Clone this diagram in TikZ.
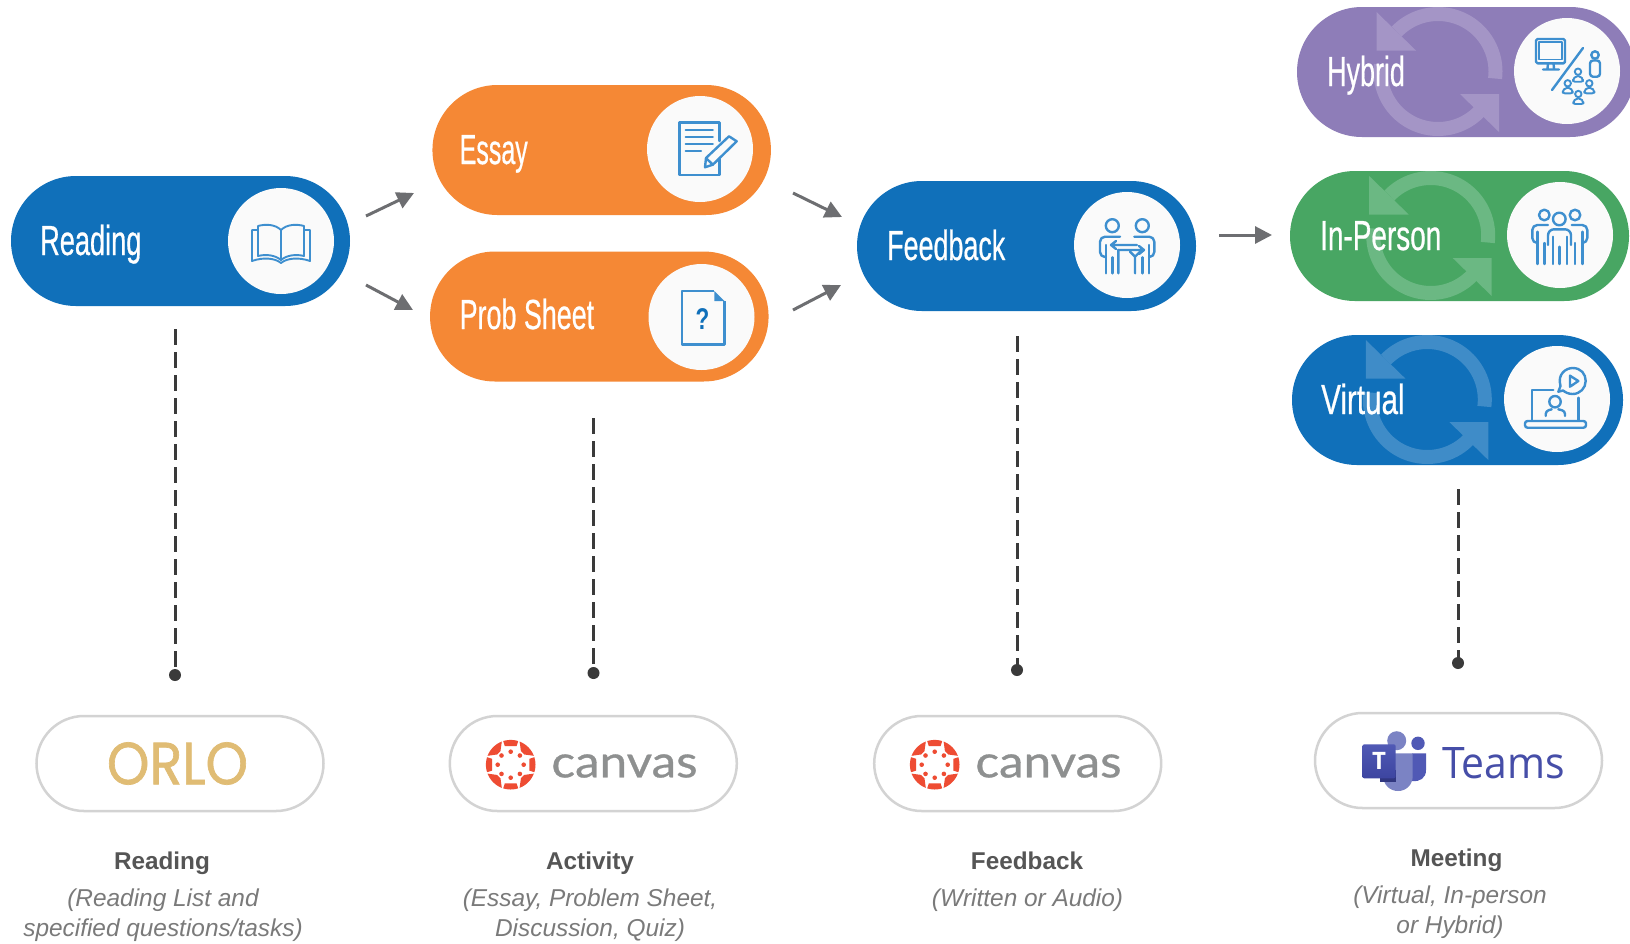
\documentclass[tikz,border=0pt]{standalone}
\usepackage{fontspec}
\usepackage{graphicx}
\setmainfont{Liberation Sans}
\newfontfamily\canvasfont[FakeBold=0.7]{Lato}
\newfontfamily\osansfont{Open Sans}
\newfontfamily\orlofont[FakeBold=1.2]{Poppins}
\newfontfamily\pillfont[FakeBold=0.7]{Liberation Sans}
\usetikzlibrary{shapes.misc,arrows.meta}
\definecolor{pblue}{HTML}{1070BA}
\definecolor{porange}{HTML}{F58835}
\definecolor{pgreen}{HTML}{48A663}
\definecolor{ppurple}{HTML}{8E7DB8}
\definecolor{rblue}{HTML}{3F8CC8}
\definecolor{rgreen}{HTML}{6BB883}
\definecolor{rpurple}{HTML}{A495C6}
\definecolor{iconblue}{HTML}{3E8FCF}
\definecolor{disc}{HTML}{FAFAFA}
\definecolor{arrowgray}{HTML}{6D6E71}
\definecolor{dashgray}{HTML}{3A3A3A}
\definecolor{outline}{HTML}{D3D3D3}
\definecolor{labgray}{HTML}{555555}
\definecolor{subgray}{HTML}{7A7A7A}
\definecolor{orlogold}{HTML}{E0BC74}
\definecolor{canvasred}{HTML}{EE4C33}
\definecolor{canvasgray}{HTML}{8E9090}
\definecolor{teamsdark}{HTML}{464EA8}
\definecolor{teamsmid}{HTML}{5059B5}
\definecolor{teamslight}{HTML}{7B83C4}
\definecolor{teamstop}{HTML}{5059B5}
\definecolor{teamsbot}{HTML}{3D45A0}
\newcommand{\pilllabel}[2]{\pillfont\fontsize{42pt}{46pt}\selectfont\scalebox{#1}[1]{#2}}
\tikzset{
  x=1pt,y=-1pt,
  pill/.style={rounded rectangle,minimum height=130pt,inner sep=0pt,draw=none},
  disc node/.style={circle,fill=disc,minimum size=106pt,inner sep=0pt,draw=none},
  pilltext/.style={anchor=base west,inner sep=0pt,text=white},
  toolpill/.style={rounded rectangle,minimum width=287pt,minimum height=95pt,inner sep=0pt,draw=outline,line width=2.5pt,fill=white},
  flow/.style={draw=arrowgray,line width=3pt,-{Triangle[length=17pt,width=17pt]}},
  dashline/.style={draw=dashgray,line width=3pt,dash pattern=on 15.5pt off 7.5pt},
  enddot/.style={circle,fill=dashgray,minimum size=12pt,inner sep=0pt},
  labtitle/.style={anchor=base,font=\fontsize{24.3pt}{30pt}\selectfont\bfseries,text=labgray,inner sep=0pt},
  labsub/.style={font=\fontsize{24.4pt}{29.5pt}\selectfont\itshape,text=subgray,inner sep=0pt,align=center},
  ico/.style={draw=iconblue,line width=2.4pt,line cap=round,line join=round},
  cyc/.pic={
    \path[pic actions,fill=none,line width=14pt] plot[domain=7:-136,samples=40] (\x:57.5);
    \path[pic actions,draw=none] (-61.5,-59.5) -- (-61.5,-21) -- (-22,-21) -- cycle;
    \path[pic actions,fill=none,line width=14pt] plot[domain=44:187,samples=40] (\x:57.5);
    \path[pic actions,draw=none] (61,60.5) -- (61,22.5) -- (22,22.5) -- cycle;
  },
  bookicon/.pic={
    \draw[ico,line width=1.9pt] (0,-11) .. controls (-6,-17) and (-16,-17) .. (-23,-15) -- (-23,15) .. controls (-15,13) and (-6,14) .. (0,19) -- cycle;
    \draw[ico,line width=1.9pt] (0,-11) .. controls (6,-17) and (16,-17) .. (23,-15) -- (23,15) .. controls (15,13) and (6,14) .. (0,19);
    \draw[ico,line width=1.9pt] (-23,-11) -- (-29,-11) -- (-29,20) .. controls (-18,16) and (-6,17) .. (0,22) .. controls (6,17) and (18,16) .. (29,20) -- (29,-11) -- (23,-11);
  },
  essayicon/.pic={
    \draw[ico] (19.4,-8) -- (19.4,-26.7) -- (-20.4,-26.7) -- (-20.4,25.7) -- (19.4,25.7) -- (19.4,10);
    \draw[ico] (-14.3,-19.3) -- (12.8,-19.3) (-14.3,-12) -- (12.8,-12) (-14.3,-5.3) -- (12.8,-5.3) (-14.3,1.7) -- (1,1.7);
    \draw[ico] (29,-12.7) -- (36.7,-7.7) -- (12.8,15.7) -- (5,18.3) -- (6,9) -- cycle;
    \draw[ico] (6,9) -- (12.8,15.7);
  },
  questionicon/.pic={
    \draw[draw=iconblue,line width=2.4pt,line join=round] (12.8,-26) -- (-19.4,-26) -- (-19.4,27.3) -- (23,27.3) -- (23,-16);
    \fill[iconblue] (12.8,-26) -- (23,-16) -- (12.8,-16) -- cycle;
    \node[text=pblue,inner sep=0pt,font=\fontsize{30pt}{32pt}\selectfont\bfseries] (qmark) at (1,1.7) {\scalebox{0.75}[1]{?}};
  },
  feedbackicon/.pic={
    \draw[ico] (-14.7,-19.3) circle[radius=6.5pt] (15.3,-19.3) circle[radius=6.5pt];
    \draw[ico,rounded corners=5pt] (-7,-8.3) -- (-27,-8.3) -- (-27,12) -- (-21,12);
    \draw[ico,rounded corners=5pt] (7.3,-8.3) -- (27.3,-8.3) -- (27.3,12) -- (22,12);
    \draw[ico] (-21,0) -- (-21,28.3) (-14.7,12.3) -- (-14.7,28.3) (15.3,12.3) -- (15.3,28.3) (22,0) -- (22,28.3);
    \draw[ico] (-8.7,5) -- (-8.7,28.3) (8,11.7) -- (8,28.3) (3,6.7) -- (8,11.7) -- (13,6.7);
    \draw[ico] (-16,0) -- (10,0) (-11,-4) -- (-16,0) -- (-11,4);
    \draw[ico] (-9,5) -- (17,5) (12,1) -- (17,5) -- (12,9);
  },
  minip/.pic={
    \draw[ico,line width=1.9pt] (0,0) circle[radius=3.2pt];
    \draw[ico,line width=1.9pt,rounded corners=2pt] (-5,10) -- (-5,7.5) -- (-2.5,4.5) -- (2.5,4.5) -- (5,7.5) -- (5,10) -- cycle;
  },
  hybridicon/.pic={
    \draw[ico,rounded corners=1.5pt] (-31,-32) rectangle (-2,-7.7);
    \draw[ico,line width=1.6pt] (-28,-29) rectangle (-5,-11.5);
    \draw[ico] (-19,-7.7) -- (-19.5,-2.5) (-13.5,-7.7) -- (-13,-2.5) (-24,-1.5) -- (-8,-1.5);
    \draw[ico] (16,-23) -- (-15,19);
    \draw[ico] (28,-16) circle[radius=3.7pt];
    \draw[ico,rounded corners=3pt] (23,5.7) -- (23,-10.5) -- (33,-10.5) -- (33,5.7) -- cycle;
    \pic at (11,0.7) {minip};
    \pic at (0.7,12.3) {minip};
    \pic at (22.3,12.3) {minip};
    \pic at (11.3,23) {minip};
  },
  inpersonicon/.pic={
    \draw[ico] (-15.7,-20) circle[radius=5.3pt] (15,-20) circle[radius=5.3pt] (-0.7,-16) circle[radius=6.3pt];
    \draw[ico,rounded corners=6pt] (-12,10) -- (-12,-5.7) -- (11,-5.7) -- (11,10);
    \draw[ico] (-7.3,1.7) -- (-7.3,29) (6.7,1.7) -- (6.7,29) (-0.7,11.7) -- (-0.7,29);
    \draw[ico,rounded corners=5pt] (-12,-10) -- (-27.7,-10) -- (-27.7,8) -- (-23.5,8);
    \draw[ico,rounded corners=5pt] (11.7,-10) -- (27.3,-10) -- (27.3,8) -- (23,8);
    \draw[ico] (-22.7,-3.3) -- (-22.7,29) (-15.7,8) -- (-15.7,29) (22.3,-3.3) -- (22.3,29) (15,8) -- (15,29);
  },
  virtualicon/.pic={
    \draw[ico] (3.5,-13) .. controls (0,-25) and (9,-31) .. (15.7,-31) .. controls (24,-31) and (28.7,-25) .. (28.7,-18) .. controls (28.7,-11) and (23,-5) .. (15.7,-5) .. controls (11,-5) and (8,-7) .. (6,-8.5) -- (1.3,-7.3) -- cycle;
    \draw[ico] (13,-23.3) -- (13,-12.3) -- (21.3,-18) -- cycle;
    \draw[ico] (-3.7,-9) -- (-25.3,-9) -- (-25.3,21);
    \draw[ico] (21.3,-1.3) -- (21.3,21);
    \draw[ico,rounded corners=2.5pt] (-32,22) -- (29,22) -- (29,28.7) -- (-32,28.7) -- cycle;
    \draw[ico] (-2,2.7) circle[radius=5.7pt];
    \draw[ico,rounded corners=3pt] (-11.3,17) -- (-11.3,12) -- (-5.3,10.3);
    \draw[ico,rounded corners=3pt] (1.3,10.3) -- (8,12) -- (8,17);
  },
  canvaslogo/.pic={
    \foreach \a in {0,90,180,270}{
      \pgfmathsetmacro\aL{\a-17.6}\pgfmathsetmacro\aH{\a+17.6}
      \fill[canvasred] plot[domain=\aL:\aH,samples=7] (\x:24.8) -- (\aH:19.6) -- (\aL:19.6) -- cycle;
    }
    \foreach \a in {45,135,225,315}{
      \pgfmathsetmacro\aL{\a-24}\pgfmathsetmacro\aH{\a+24}\pgfmathsetmacro\bL{\a-8}\pgfmathsetmacro\bH{\a+8}
      \fill[canvasred] plot[domain=\aL:\aH,samples=9] (\x:24.8) -- (\bH:17) -- (\bL:17) -- cycle;
    }
    \foreach \a in {0,45,...,315}{
      \fill[canvasred] (\a:13) circle[radius=2.3pt];
    }
  },
  teamslogo/.pic={
    \fill[teamsmid] (1412,753.3) -- (1426,753.3) -- (1426,770) .. controls (1426,778) and (1420,782) .. (1412,781) -- cycle;
    \fill[teamsmid] (1418,743.3) circle[radius=6.7pt];
    \fill[teamslight] (1383.3,753.3) -- (1412.7,753.3) -- (1412.7,776) .. controls (1412.7,785) and (1406,791) .. (1398,791) .. controls (1390,791) and (1383.3,785) .. (1383.3,776) -- cycle;
    \fill[teamslight] (1396.7,740.7) circle[radius=9.5pt];
    \fill[teamsbot!80!black] (1380,770) rectangle (1396,782);
    \shade[top color=teamstop,bottom color=teamsbot,rounded corners=2pt] (1362.3,744.3) rectangle (1395.7,778.3);
    \node[text=white,inner sep=0pt,font=\fontsize{24pt}{26pt}\selectfont\osansfont\bfseries] (teamsT) at (1379,761) {T};
  },
}
\begin{document}
\begin{tikzpicture}
\clip (0,0) rectangle (1630,943);
\fill[white] (0,0) rectangle (1630,943);

% main pills
\node[pill,fill=pblue,minimum width=339pt] (reading) at (180.5,241) {};
\node[pill,fill=porange,minimum width=338.5pt] (essay) at (601.7,150) {};
\node[pill,fill=porange,minimum width=338.5pt] (prob) at (599.3,316.5) {};
\node[pill,fill=pblue,minimum width=339pt] (feedback) at (1026.5,246) {};
\node[pill,fill=ppurple,minimum width=338pt] (hybrid) at (1466,72) {};
\node[pill,fill=pgreen,minimum width=339pt] (inperson) at (1459.5,236) {};
\node[pill,fill=pblue,minimum width=331pt] (virtual) at (1457.5,400) {};

% cycle rings
\pic[draw=rpurple,fill=rpurple] at (1438,71.5) {cyc};
\pic[draw=rgreen,fill=rgreen] at (1430.7,235.5) {cyc};
\pic[draw=rblue,fill=rblue] at (1427.3,399.5) {cyc};

% discs
\node[disc node] (dreading) at (281,241) {};
\node[disc node] (dessay) at (700,149) {};
\node[disc node] (dprob) at (701.5,317) {};
\node[disc node] (dfeedback) at (1127,245) {};
\node[disc node] (dhybrid) at (1567,71) {};
\node[disc node] (dinperson) at (1560,235) {};
\node[disc node] (dvirtual) at (1557,399) {};

% icons
\pic at (dreading.center) {bookicon};
\pic at (dessay.center) {essayicon};
\pic at (dprob.center) {questionicon};
\pic at (dfeedback.center) {feedbackicon};
\pic at (dhybrid.center) {hybridicon};
\pic at (dinperson.center) {inpersonicon};
\pic at (dvirtual.center) {virtualicon};

% pill labels
\node[pilltext] (treading) at (40,255) {\pilllabel{0.647}{Reading}};
\node[pilltext] (tessay) at (459.5,164) {\pilllabel{0.595}{Essay}};
\node[pilltext] (tprob) at (459.5,329) {\pilllabel{0.64}{Prob Sheet}};
\node[pilltext] (tfeedback) at (887,260) {\pilllabel{0.64}{Feedback}};
\node[pilltext] (thybrid) at (1327,86) {\pilllabel{0.64}{Hybrid}};
\node[pilltext] (tinperson) at (1320,250) {\pilllabel{0.665}{In-Person}};
\node[pilltext] (tvirtual) at (1321,414) {\pilllabel{0.705}{Virtual}};

% flow arrows
\coordinate (a1s) at (366,216); \coordinate (a1e) at (414,193);
\coordinate (a2s) at (366,285); \coordinate (a2e) at (413,310);
\coordinate (a3s) at (793,193); \coordinate (a3e) at (842,217);
\coordinate (a4s) at (793,310); \coordinate (a4e) at (841,285);
\coordinate (a5s) at (1219,235); \coordinate (a5e) at (1272,235);
\draw[flow] (a1s) -- (a1e);
\draw[flow] (a2s) -- (a2e);
\draw[flow] (a3s) -- (a3e);
\draw[flow] (a4s) -- (a4e);
\draw[flow] (a5s) -- (a5e);

% dashed drops
\coordinate (d1) at (175,329);
\coordinate (d2) at (593.5,418);
\coordinate (d3) at (1017,336);
\coordinate (d4) at (1458,489);
\node[enddot] (e1) at (175,675) {};
\node[enddot] (e2) at (593.5,673) {};
\node[enddot] (e3) at (1017,670) {};
\node[enddot] (e4) at (1458,663) {};
\draw[dashline] (d1) -- (e1.center);
\draw[dashline] (d2) -- (e2.center);
\draw[dashline] (d3) -- (e3.center);
\draw[dashline] (d4) -- (e4.center);

% tool pills
\node[toolpill] (orlo) at (180,763.5) {};
\node[toolpill] (canvasa) at (593.3,763.5) {};
\node[toolpill] (canvasb) at (1017.7,763.5) {};
\node[toolpill] (teams) at (1458.5,760.5) {};

\node[inner sep=0pt,text=orlogold] (orlotext) at (177.5,763.5) {\resizebox{141pt}{42pt}{\orlofont ORLO}};
\pic at (510.7,764.7) {canvaslogo};
\pic at (934.7,764.7) {canvaslogo};
\node[inner sep=0pt,text=canvasgray] (canvastexta) at (624.5,766) {\resizebox{146pt}{23pt}{\canvasfont canvas}};
\node[inner sep=0pt,text=canvasgray] (canvastextb) at (1048.5,766) {\resizebox{146pt}{23pt}{\canvasfont canvas}};
\pic at (0,0) {teamslogo};
\node[inner sep=0pt,text=teamsdark] (teamstext) at (1503.5,763) {\resizebox{123pt}{31pt}{\osansfont Teams}};

% captions
\node[labtitle] (l1) at (162,869) {Reading};
\node[labtitle] (l2) at (590,869) {Activity};
\node[labtitle] (l3) at (1027,869) {Feedback};
\node[labtitle] (l4) at (1456.5,866) {Meeting};
\node[labsub] (s1) at (163,915) {(Reading List and\\specified questions/tasks)};
\node[labsub] (s2) at (590,915) {(Essay, Problem Sheet,\\Discussion, Quiz)};
\node[labsub] (s3) at (1027.5,900) {(Written or Audio)};
\node[labsub] (s4) at (1450,912) {(Virtual, In-person\\or Hybrid)};
\end{tikzpicture}
\end{document}
